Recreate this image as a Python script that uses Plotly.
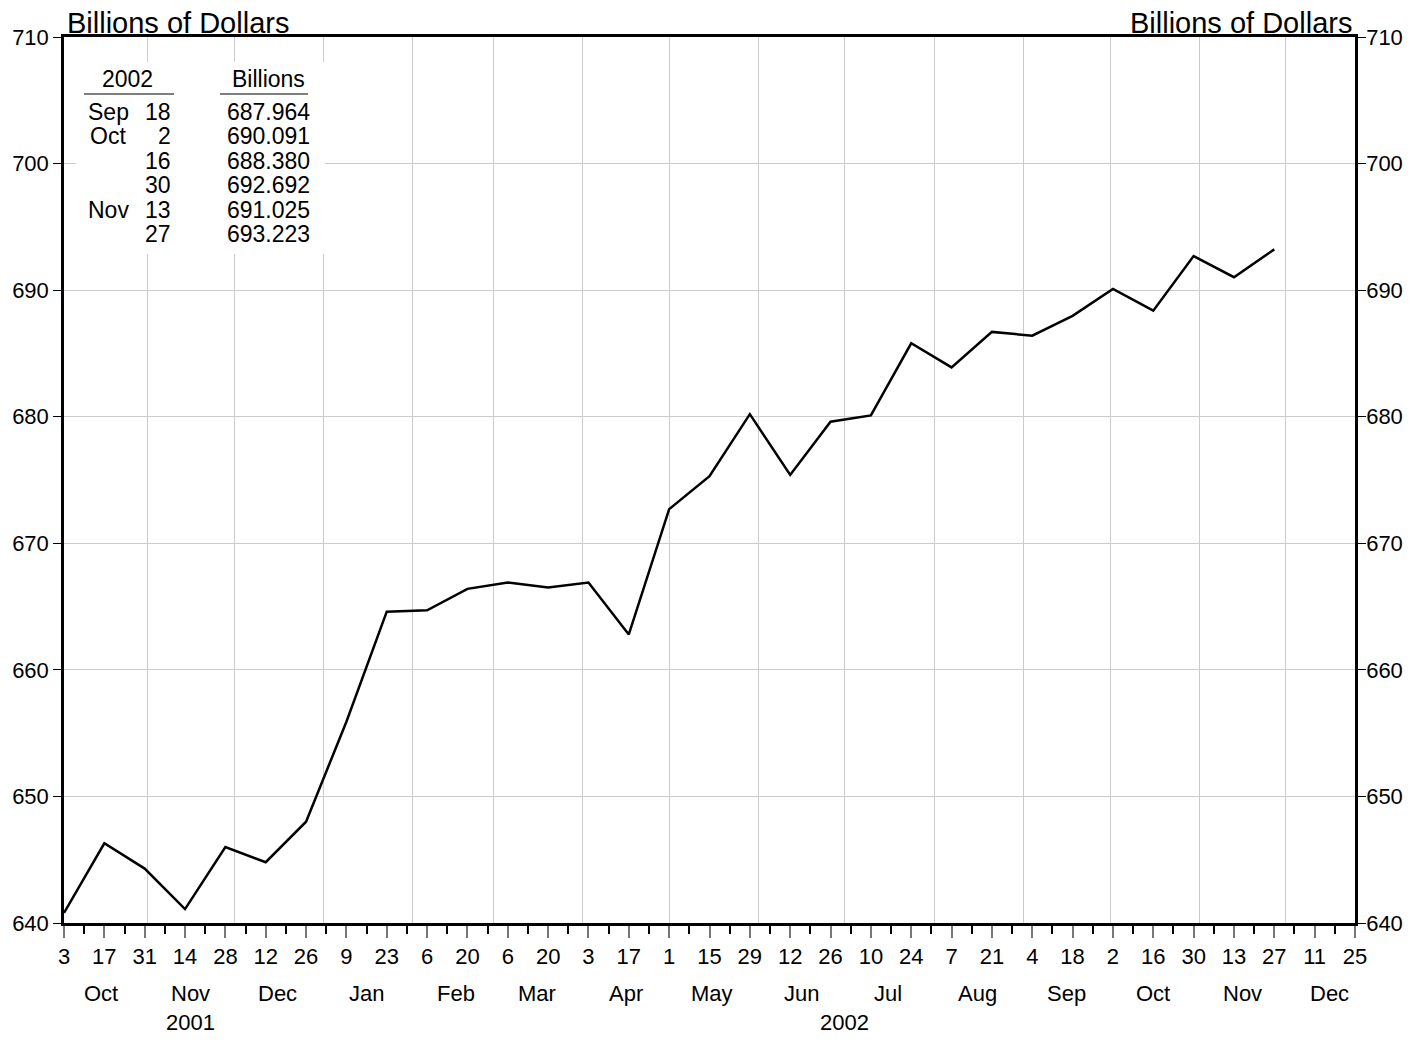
import pandas as pd
import plotly.graph_objects as go

# ---- data -----------------------------------------------------------------
dates = ["2001-10-03", "2001-10-17", "2001-10-31", "2001-11-14", "2001-11-28",
         "2001-12-12", "2001-12-26", "2002-01-09", "2002-01-23", "2002-02-06",
         "2002-02-20", "2002-03-06", "2002-03-20", "2002-04-03", "2002-04-17",
         "2002-05-01", "2002-05-15", "2002-05-29", "2002-06-12", "2002-06-26",
         "2002-07-10", "2002-07-24", "2002-08-07", "2002-08-21", "2002-09-04",
         "2002-09-18", "2002-10-02", "2002-10-16", "2002-10-30", "2002-11-13",
         "2002-11-27"]
values = [640.8, 646.3, 644.3, 641.1, 646.0, 644.8, 648.0, 655.9, 664.6, 664.7,
          666.4, 666.9, 666.5, 666.9, 662.8, 672.7, 675.3, 680.2, 675.4, 679.6,
          680.1, 685.8, 683.9, 686.7, 686.4, 687.964, 690.091, 688.380, 692.692,
          691.025, 693.223]

table_year = "2002"
table_months = ["Sep", "Oct", "", "", "Nov", ""]
table_days = ["18", "2", "16", "30", "13", "27"]
table_values = ["%.3f" % v for v in values[-6:]]

tick_labels = ["3", "17", "31", "14", "28", "12", "26", "9", "23", "6", "20", "6",
               "20", "3", "17", "1", "15", "29", "12", "26", "10", "24", "7", "21",
               "4", "18", "2", "16", "30", "13", "27", "11", "25"]
month_names = ["Oct", "Nov", "Dec", "Jan", "Feb", "Mar", "Apr", "May", "Jun",
               "Jul", "Aug", "Sep", "Oct", "Nov", "Dec"]
month_label_dates = ["2001-10-16", "2001-11-16", "2001-12-16", "2002-01-16",
                     "2002-02-16", "2002-03-16", "2002-04-16", "2002-05-16",
                     "2002-06-16", "2002-07-16", "2002-08-16", "2002-09-16",
                     "2002-10-16", "2002-11-16", "2002-12-16"]
month_starts = ["2001-11-01", "2001-12-01", "2002-01-01", "2002-02-01",
                "2002-03-01", "2002-04-01", "2002-05-01", "2002-06-01",
                "2002-07-01", "2002-08-01", "2002-09-01", "2002-10-01",
                "2002-11-01", "2002-12-01"]
year_labels = ["2001", "2002"]
year_label_dates = ["2001-11-16", "2002-07-01"]

x_start, x_end = "2001-10-03", "2002-12-25"
weeks = pd.date_range(x_start, x_end, freq="7D")
major_ticks = [d.strftime("%Y-%m-%d") for d in weeks[::2]]
minor_ticks = [d.strftime("%Y-%m-%d") for d in weeks[1::2]]

# ---- layout helpers --------------------------------------------------------
OFF = 8                      # default page (body) margin around the figure
W, H = 1395, 1027            # figure size (fits the window without scrollbars)
L, R, T, B = 64, 1355, 37, 923   # plot area in window pixels
FONT = "Liberation Sans, Arial, Helvetica, sans-serif"


def px(x):
    return (x - L) / (R - L)


def py(y):
    return (B - y) / (B - T)


fig = go.Figure()
fig.add_trace(go.Scatter(x=dates, y=values, mode="lines",
                         line=dict(color="black", width=2.5),
                         showlegend=False, hoverinfo="x+y"))
# carrier trace for the overlaying axes (month grid / right-hand scale)
fig.add_trace(go.Scatter(x=dates, y=values, mode="lines", xaxis="x2", yaxis="y2",
                         opacity=0, showlegend=False, hoverinfo="skip"))

annotations = []
shapes = []

# units labels
for xa, anc, xs in [(0, "left", 2), (1, "right", -2)]:
    annotations.append(dict(text="Billions of Dollars", xref="paper",
                            yref="paper", x=xa, y=1, xanchor=anc,
                            yanchor="bottom", xshift=xs, yshift=-3,
                            borderpad=0, showarrow=False,
                            font=dict(family=FONT, size=29, color="black")))

# month & year labels under the axis
for d, m in zip(month_label_dates, month_names):
    annotations.append(dict(text=m, xref="x", yref="paper", x=d, y=0,
                            xanchor="center", yanchor="middle", yshift=-70,
                            showarrow=False,
                            font=dict(family=FONT, size=22, color="black")))
for d, yl in zip(year_label_dates, year_labels):
    annotations.append(dict(text=yl, xref="x", yref="paper", x=d, y=0,
                            xanchor="center", yanchor="middle", yshift=-99,
                            borderpad=0, showarrow=False,
                            font=dict(family=FONT, size=22, color="black")))

# inset table
shapes.append(dict(type="rect", xref="paper", yref="paper",
                   x0=px(76), x1=px(325), y0=py(254), y1=py(62),
                   fillcolor="white", line=dict(width=0), layer="above"))
shapes.append(dict(type="line", xref="paper", yref="paper",
                   x0=px(84), x1=px(174), y0=py(94), y1=py(94),
                   line=dict(color="black", width=1.2), layer="above"))
shapes.append(dict(type="line", xref="paper", yref="paper",
                   x0=px(220), x1=px(308), y0=py(94), y1=py(94),
                   line=dict(color="black", width=1.2), layer="above"))
tfont = dict(family=FONT, size=23, color="black")
annotations.append(dict(text=table_year, xref="paper", yref="paper", x=px(127),
                        y=py(79), xanchor="center", yanchor="middle",
                        borderpad=0, showarrow=False, font=tfont))
annotations.append(dict(text="Billions", xref="paper", yref="paper", x=px(268),
                        y=py(79), xanchor="center", yanchor="middle",
                        borderpad=0, showarrow=False, font=tfont))
row_y0, row_dy = 111.5, 24.6
for i, (m, d, v) in enumerate(zip(table_months, table_days, table_values)):
    yy = py(row_y0 + i * row_dy)
    if m:
        annotations.append(dict(text=m, xref="paper", yref="paper", x=px(108),
                                y=yy, xanchor="center", yanchor="middle",
                                borderpad=0, showarrow=False, font=tfont))
    annotations.append(dict(text=d, xref="paper", yref="paper", x=px(172),
                            y=yy, xanchor="right", yanchor="middle",
                            borderpad=0, showarrow=False, font=tfont))
    annotations.append(dict(text=v, xref="paper", yref="paper", x=px(311),
                            y=yy, xanchor="right", yanchor="middle",
                            borderpad=0, showarrow=False, font=tfont))

yticks = list(range(640, 711, 10))
tickfont = dict(family=FONT, size=22, color="black")

fig.update_layout(
    width=W, height=H,
    margin=dict(l=L - OFF, r=W - (R - OFF), t=T - OFF, b=H - (B - OFF), pad=0,
                autoexpand=False),
    paper_bgcolor="white", plot_bgcolor="white",
    showlegend=False,
    xaxis=dict(type="date", range=[x_start, x_end], tickmode="array",
               tickvals=major_ticks, ticktext=tick_labels, ticks="outside",
               ticklen=12, tickwidth=1.5, tickcolor="#777777",
               showgrid=False, zeroline=False, showline=True,
               linecolor="black", linewidth=2.5, mirror=True,
               tickfont=tickfont, automargin=False,
               minor=dict(tickmode="array", tickvals=minor_ticks,
                          ticks="outside", ticklen=8, tickwidth=1.5,
                          tickcolor="black", showgrid=False)),
    xaxis2=dict(type="date", range=[x_start, x_end], overlaying="x",
                anchor="y", tickmode="array", tickvals=month_starts,
                showgrid=True, gridcolor="#cccccc", gridwidth=1,
                showticklabels=False, ticks="", showline=False,
                zeroline=False, automargin=False),
    yaxis=dict(range=[640, 710], tickmode="array", tickvals=yticks,
               ticks="outside", ticklen=8, tickwidth=1.2, tickcolor="black",
               showgrid=True, gridcolor="#cccccc", gridwidth=1,
               zeroline=False, showline=True, linecolor="black",
               linewidth=2.5, tickfont=tickfont, automargin=False),
    yaxis2=dict(range=[640, 710], overlaying="y", side="right", anchor="x",
                tickmode="array", tickvals=yticks, ticks="outside", ticklen=8,
                tickwidth=1.2, tickcolor="black", showgrid=False,
                zeroline=False, showline=True, linecolor="black",
                linewidth=2.5, tickfont=tickfont, automargin=False,
                ticklabelstandoff=-4),
    annotations=annotations,
    shapes=shapes,
)

fig.write_html("out.html")
